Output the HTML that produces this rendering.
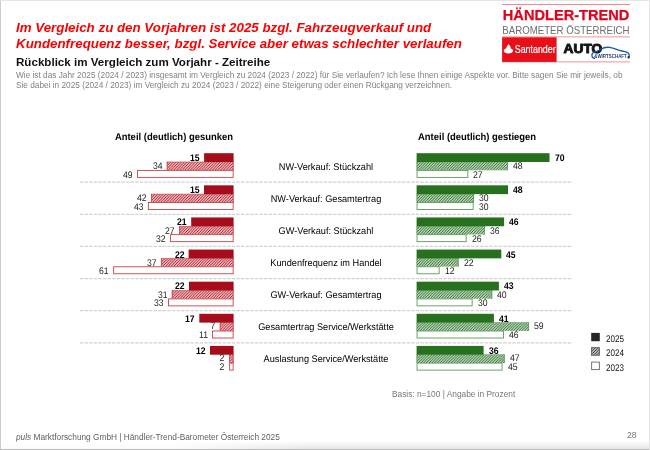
<!DOCTYPE html>
<html><head><meta charset="utf-8">
<style>
html,body{margin:0;padding:0;}
body{width:650px;height:450px;position:relative;overflow:hidden;background:#fff;font-family:"Liberation Sans",sans-serif;}
.abs{position:absolute;white-space:nowrap;}
.lg{left:606.1px;font-size:9.5px;line-height:11px;color:#111;text-rendering:geometricPrecision;transform:scaleX(0.85);transform-origin:0 50%;}
.v{font-size:9.6px;line-height:11px;text-rendering:geometricPrecision;}
#page{position:absolute;left:0;top:0;width:650px;height:450px;will-change:transform;}
#frame{position:absolute;left:0;top:0;width:648px;height:447.7px;border-left:1px solid #cdcdcd;border-right:1px solid #e4e4e4;border-top:1px solid #e6e6e6;border-bottom:1.3px solid #bcbcbc;}
#shade{position:absolute;left:1px;top:441px;width:648px;height:7.7px;background:linear-gradient(to bottom, rgba(235,235,235,0) 0, rgba(228,228,228,0.95) 100%);-webkit-mask-image:linear-gradient(to right, rgba(0,0,0,0.12) 0, rgba(0,0,0,0.12) 170px, #000 310px);mask-image:linear-gradient(to right, rgba(0,0,0,0.12) 0, rgba(0,0,0,0.12) 170px, #000 310px);}
</style></head><body>
<div id="page"><div id="shade"></div><div id="frame"></div>
<div class="abs" style="left:16.40px;top:20px;font-size:13.34px;line-height:15px;transform:translateY(0.30px);transform-origin:0 50%;will-change:transform;font-weight:bold;font-style:italic;color:#fb0000;">Im Vergleich zu den Vorjahren ist 2025 bzgl. Fahrzeugverkauf und</div>
<div class="abs" style="left:16.40px;top:35px;font-size:13.34px;line-height:15px;transform:translateY(0.70px);transform-origin:0 50%;will-change:transform;font-weight:bold;font-style:italic;color:#fb0000;">Kundenfrequenz besser, bzgl. Service aber etwas schlechter verlaufen</div>
<div class="abs" style="left:16.10px;top:55px;font-size:11.6px;line-height:12px;transform:translateY(0.70px);transform-origin:0 50%;will-change:transform;font-weight:bold;color:#111;">Rückblick im Vergleich zum Vorjahr - Zeitreihe</div>
<div class="abs" style="left:16.20px;top:71px;font-size:8.27px;line-height:9px;transform:translateY(0.30px);transform-origin:0 50%;will-change:transform;color:#828282;">Wie ist das Jahr 2025 (2024 / 2023) insgesamt im Vergleich zu 2024 (2023 / 2022) für Sie verlaufen? Ich lese Ihnen einige Aspekte vor. Bitte sagen Sie mir jeweils, ob</div>
<div class="abs" style="left:16.20px;top:80px;font-size:8.27px;line-height:9px;transform:translateY(0.70px);transform-origin:0 50%;will-change:transform;color:#828282;">Sie dabei in 2025 (2024 / 2023) im Vergleich zu 2024 (2023 / 2022) eine Steigerung oder einen Rückgang verzeichnen.</div>

<svg class="abs" style="left:495px;top:0" width="145" height="70" viewBox="495 0 145 70" font-family="Liberation Sans, sans-serif">
<rect x="502.1" y="4.15" width="127.8" height="0.75" fill="#e8606a"/>
<text x="502.8" y="20.3" font-size="14.3" font-weight="bold" fill="#e2001a" stroke="#e2001a" stroke-width="0.25" textLength="126.6" lengthAdjust="spacingAndGlyphs">HÄNDLER-TREND</text>
<text x="502.3" y="33.5" font-size="10.9" fill="#6e6e6e" textLength="127.3" lengthAdjust="spacingAndGlyphs">BAROMETER ÖSTERREICH</text>
<rect x="502.1" y="36.5" width="127.8" height="0.8" fill="#ec7a82"/>
<rect x="502.1" y="61.5" width="127.8" height="0.8" fill="#ec7a82"/>
<rect x="502.1" y="37.3" width="54.5" height="24.6" fill="#e80f18"/>
<!-- santander flame -->
<path d="M508.6 44.1 C509.4 45.4 511 46.6 510.5 48.2 C512.2 48.7 513.05 49.7 513.05 50.8 C513.05 52.5 510.9 53.6 508.4 53.6 C505.9 53.6 503.75 52.5 503.75 50.8 C503.75 49.7 504.8 48.7 506.4 48.3 C506.2 46.6 507.8 45.6 508.6 44.1Z" fill="#fff"/>
<text x="514.8" y="53.1" font-size="10.0" fill="#fff" stroke="#fff" stroke-width="0.2" textLength="40.8" lengthAdjust="spacingAndGlyphs">Santander</text>
<!-- AUTO -->
<text x="563.6" y="52.85" font-size="13.4" font-weight="bold" fill="#151515" stroke="#151515" stroke-width="0.95" stroke-linejoin="round" textLength="38.7" lengthAdjust="spacingAndGlyphs">AUTO</text>
<path d="M594.4 58.3 C592.6 58 591.7 56.6 592 54.4 C592.4 52.6 594 51.6 596.2 51.3 C598.5 51 599.8 50.2 601 49.2 C603.5 47.4 606.5 47 609.5 47.3 C612.5 47.6 614.5 48.5 616.5 49.4 C619 50.5 621.5 50.9 624 51.4 C626.5 51.9 628.3 52.7 628.9 54 C629.3 54.9 629.3 55.6 629.2 56.2" fill="none" stroke="#1c58ad" stroke-width="1.35" stroke-linecap="round"/>
<rect x="627.6" y="56.3" width="2.1" height="2" fill="#151515"/>
<text x="594.2" y="57.9" font-size="4.6" font-weight="bold" fill="#1e3f7a" textLength="32.6" lengthAdjust="spacingAndGlyphs">&amp;WIRTSCHAFT</text>
</svg>


<div class="abs" style="right:416.7px;top:132px;font-size:10px;line-height:11px;font-weight:bold;color:#000;text-rendering:geometricPrecision;transform:scaleX(0.945);transform-origin:100% 50%;">Anteil (deutlich) gesunken</div>
<div class="abs" style="left:417.7px;top:132px;font-size:10px;line-height:11px;font-weight:bold;color:#000;text-rendering:geometricPrecision;transform:scaleX(0.945);transform-origin:0 50%;">Anteil (deutlich) gestiegen</div>

<svg class="abs" style="left:0;top:0" width="650" height="450" viewBox="0 0 650 450">
<defs>
<pattern id="hr" width="2.75" height="2.75" patternUnits="userSpaceOnUse"><rect width="2.75" height="2.75" fill="#fff"/><path d="M-0.5,0.5 L0.5,-0.5 M0,2.75 L2.75,0 M2.25,3.25 L3.25,2.25" stroke="#b00c18" stroke-width="1.02"/></pattern>
<pattern id="hg" width="2.75" height="2.75" patternUnits="userSpaceOnUse"><rect width="2.75" height="2.75" fill="#fff"/><path d="M-0.5,0.5 L0.5,-0.5 M0,2.75 L2.75,0 M2.25,3.25 L3.25,2.25" stroke="#176414" stroke-width="1.02"/></pattern>
<pattern id="hk" width="2.75" height="2.75" patternUnits="userSpaceOnUse"><rect width="2.75" height="2.75" fill="#fff"/><path d="M-0.5,0.5 L0.5,-0.5 M0,2.75 L2.75,0 M2.25,3.25 L3.25,2.25" stroke="#222" stroke-width="1.0"/></pattern>
</defs>
<rect x="166.80" y="161.80" width="66.80" height="8.50" fill="url(#hr)"/><path d="M167.20,161.80 V170.30 M233.20,161.80 V170.30" stroke="#c6424a" stroke-width="0.8" fill="none"/><path d="M166.80,162.05 H233.60" stroke="#c6424a" stroke-width="0.5" fill="none"/>
<rect x="416.60" y="161.80" width="91.40" height="8.50" fill="url(#hg)"/><path d="M417.00,161.80 V170.30 M507.60,161.80 V170.30" stroke="#5a9a58" stroke-width="0.8" fill="none"/><path d="M416.60,162.05 H508.00" stroke="#5a9a58" stroke-width="0.5" fill="none"/>
<rect x="137.45" y="170.40" width="95.70" height="7.00" fill="#fff" stroke="#c6424a" stroke-width="0.9"/>
<rect x="417.05" y="170.40" width="50.80" height="7.00" fill="#fff" stroke="#5a9a58" stroke-width="0.9"/>
<line x1="80" y1="182.22" x2="572.6" y2="182.22" stroke="#d2d2d2" stroke-width="1.3" stroke-dasharray="3.4 1.2"/>
<rect x="151.10" y="193.92" width="82.50" height="8.50" fill="url(#hr)"/><path d="M151.50,193.92 V202.42 M233.20,193.92 V202.42" stroke="#c6424a" stroke-width="0.8" fill="none"/><path d="M151.10,194.17 H233.60" stroke="#c6424a" stroke-width="0.5" fill="none"/>
<rect x="416.60" y="193.92" width="57.40" height="8.50" fill="url(#hg)"/><path d="M417.00,193.92 V202.42 M473.60,193.92 V202.42" stroke="#5a9a58" stroke-width="0.8" fill="none"/><path d="M416.60,194.17 H474.00" stroke="#5a9a58" stroke-width="0.5" fill="none"/>
<rect x="148.35" y="202.52" width="84.80" height="7.00" fill="#fff" stroke="#c6424a" stroke-width="0.9"/>
<rect x="417.05" y="202.52" width="56.10" height="7.00" fill="#fff" stroke="#5a9a58" stroke-width="0.9"/>
<line x1="80" y1="214.34" x2="572.6" y2="214.34" stroke="#d2d2d2" stroke-width="1.3" stroke-dasharray="3.4 1.2"/>
<rect x="179.10" y="226.04" width="54.50" height="8.50" fill="url(#hr)"/><path d="M179.50,226.04 V234.54 M233.20,226.04 V234.54" stroke="#c6424a" stroke-width="0.8" fill="none"/><path d="M179.10,226.29 H233.60" stroke="#c6424a" stroke-width="0.5" fill="none"/>
<rect x="416.60" y="226.04" width="68.30" height="8.50" fill="url(#hg)"/><path d="M417.00,226.04 V234.54 M484.50,226.04 V234.54" stroke="#5a9a58" stroke-width="0.8" fill="none"/><path d="M416.60,226.29 H484.90" stroke="#5a9a58" stroke-width="0.5" fill="none"/>
<rect x="170.45" y="234.64" width="62.70" height="7.00" fill="#fff" stroke="#c6424a" stroke-width="0.9"/>
<rect x="417.05" y="234.64" width="49.10" height="7.00" fill="#fff" stroke="#5a9a58" stroke-width="0.9"/>
<line x1="80" y1="246.46" x2="572.6" y2="246.46" stroke="#d2d2d2" stroke-width="1.3" stroke-dasharray="3.4 1.2"/>
<rect x="161.00" y="258.16" width="72.60" height="8.50" fill="url(#hr)"/><path d="M161.40,258.16 V266.66 M233.20,258.16 V266.66" stroke="#c6424a" stroke-width="0.8" fill="none"/><path d="M161.00,258.41 H233.60" stroke="#c6424a" stroke-width="0.5" fill="none"/>
<rect x="416.60" y="258.16" width="42.00" height="8.50" fill="url(#hg)"/><path d="M417.00,258.16 V266.66 M458.20,258.16 V266.66" stroke="#5a9a58" stroke-width="0.8" fill="none"/><path d="M416.60,258.41 H458.60" stroke="#5a9a58" stroke-width="0.5" fill="none"/>
<rect x="113.65" y="266.76" width="119.50" height="7.00" fill="#fff" stroke="#c6424a" stroke-width="0.9"/>
<rect x="417.05" y="266.76" width="22.10" height="7.00" fill="#fff" stroke="#5a9a58" stroke-width="0.9"/>
<line x1="80" y1="278.58" x2="572.6" y2="278.58" stroke="#d2d2d2" stroke-width="1.3" stroke-dasharray="3.4 1.2"/>
<rect x="171.80" y="290.28" width="61.80" height="8.50" fill="url(#hr)"/><path d="M172.20,290.28 V298.78 M233.20,290.28 V298.78" stroke="#c6424a" stroke-width="0.8" fill="none"/><path d="M171.80,290.53 H233.60" stroke="#c6424a" stroke-width="0.5" fill="none"/>
<rect x="416.60" y="290.28" width="75.60" height="8.50" fill="url(#hg)"/><path d="M417.00,290.28 V298.78 M491.80,290.28 V298.78" stroke="#5a9a58" stroke-width="0.8" fill="none"/><path d="M416.60,290.53 H492.20" stroke="#5a9a58" stroke-width="0.5" fill="none"/>
<rect x="168.55" y="298.88" width="64.60" height="7.00" fill="#fff" stroke="#c6424a" stroke-width="0.9"/>
<rect x="417.05" y="298.88" width="55.10" height="7.00" fill="#fff" stroke="#5a9a58" stroke-width="0.9"/>
<line x1="80" y1="310.70" x2="572.6" y2="310.70" stroke="#d2d2d2" stroke-width="1.3" stroke-dasharray="3.4 1.2"/>
<rect x="219.80" y="322.40" width="13.80" height="8.50" fill="url(#hr)"/><path d="M220.20,322.40 V330.90 M233.20,322.40 V330.90" stroke="#c6424a" stroke-width="0.8" fill="none"/><path d="M219.80,322.65 H233.60" stroke="#c6424a" stroke-width="0.5" fill="none"/>
<rect x="416.60" y="322.40" width="112.40" height="8.50" fill="url(#hg)"/><path d="M417.00,322.40 V330.90 M528.60,322.40 V330.90" stroke="#5a9a58" stroke-width="0.8" fill="none"/><path d="M416.60,322.65 H529.00" stroke="#5a9a58" stroke-width="0.5" fill="none"/>
<rect x="212.45" y="331.00" width="20.70" height="7.00" fill="#fff" stroke="#c6424a" stroke-width="0.9"/>
<rect x="417.05" y="331.00" width="86.50" height="7.00" fill="#fff" stroke="#5a9a58" stroke-width="0.9"/>
<line x1="80" y1="342.82" x2="572.6" y2="342.82" stroke="#d2d2d2" stroke-width="1.3" stroke-dasharray="3.4 1.2"/>
<rect x="229.10" y="354.52" width="4.50" height="8.50" fill="url(#hr)"/><path d="M229.50,354.52 V363.02 M233.20,354.52 V363.02" stroke="#c6424a" stroke-width="0.8" fill="none"/><path d="M229.10,354.77 H233.60" stroke="#c6424a" stroke-width="0.5" fill="none"/>
<rect x="416.60" y="354.52" width="88.10" height="8.50" fill="url(#hg)"/><path d="M417.00,354.52 V363.02 M504.30,354.52 V363.02" stroke="#5a9a58" stroke-width="0.8" fill="none"/><path d="M416.60,354.77 H504.70" stroke="#5a9a58" stroke-width="0.5" fill="none"/>
<rect x="229.65" y="363.12" width="3.50" height="7.00" fill="#fff" stroke="#c6424a" stroke-width="0.9"/>
<rect x="417.05" y="363.12" width="85.00" height="7.00" fill="#fff" stroke="#5a9a58" stroke-width="0.9"/>
<rect x="204.10" y="153.20" width="29.50" height="8.80" fill="#a60d1a"/>
<rect x="416.60" y="153.20" width="132.90" height="8.80" fill="#26701e"/>
<rect x="204.00" y="185.32" width="29.60" height="8.80" fill="#a60d1a"/>
<rect x="416.60" y="185.32" width="91.40" height="8.80" fill="#26701e"/>
<rect x="191.20" y="217.44" width="42.40" height="8.80" fill="#a60d1a"/>
<rect x="416.60" y="217.44" width="87.50" height="8.80" fill="#26701e"/>
<rect x="188.60" y="249.56" width="45.00" height="8.80" fill="#a60d1a"/>
<rect x="416.60" y="249.56" width="84.70" height="8.80" fill="#26701e"/>
<rect x="189.00" y="281.68" width="44.60" height="8.80" fill="#a60d1a"/>
<rect x="416.60" y="281.68" width="82.30" height="8.80" fill="#26701e"/>
<rect x="199.30" y="313.80" width="34.30" height="8.80" fill="#a60d1a"/>
<rect x="416.60" y="313.80" width="77.30" height="8.80" fill="#26701e"/>
<rect x="210.00" y="345.92" width="23.60" height="8.80" fill="#a60d1a"/>
<rect x="416.60" y="345.92" width="67.00" height="8.80" fill="#26701e"/>
<rect x="591.2" y="332.9" width="8.6" height="8.3" fill="#262626"/>
<rect x="591.2" y="347.3" width="8.6" height="8.3" fill="url(#hk)"/><rect x="591.6" y="347.7" width="7.8" height="7.5" fill="none" stroke="#555" stroke-width="0.7"/>
<rect x="591.65" y="362.1" width="7.7" height="7.5" fill="#fff" stroke="#666" stroke-width="0.9"/>
</svg>
<div class="abs v" style="right:450.30px;top:153px;font-weight:bold;color:#000;transform:scaleX(0.9);transform-origin:100% 50%;">15</div>
<div class="abs v" style="left:554.50px;top:153px;font-weight:bold;color:#000;transform:scaleX(0.9);transform-origin:0 50%;">70</div>
<div class="abs v" style="right:487.60px;top:161px;color:#222;transform:scaleX(0.9);transform-origin:100% 50%;">34</div>
<div class="abs v" style="left:513.00px;top:161px;color:#222;transform:scaleX(0.9);transform-origin:0 50%;">48</div>
<div class="abs v" style="right:517.40px;top:170px;color:#222;transform:scaleX(0.9);transform-origin:100% 50%;">49</div>
<div class="abs v" style="left:473.30px;top:170px;color:#222;transform:scaleX(0.9);transform-origin:0 50%;">27</div>
<div class="abs" style="left:176.3px;width:300px;text-align:center;top:162px;font-size:9.7px;line-height:11px;color:#000;text-rendering:geometricPrecision;transform:scaleX(0.948);">NW-Verkauf: Stückzahl</div>
<div class="abs v" style="right:450.40px;top:185px;font-weight:bold;color:#000;transform:scaleX(0.9);transform-origin:100% 50%;">15</div>
<div class="abs v" style="left:513.00px;top:185px;font-weight:bold;color:#000;transform:scaleX(0.9);transform-origin:0 50%;">48</div>
<div class="abs v" style="right:503.30px;top:193px;color:#222;transform:scaleX(0.9);transform-origin:100% 50%;">42</div>
<div class="abs v" style="left:479.00px;top:193px;color:#222;transform:scaleX(0.9);transform-origin:0 50%;">30</div>
<div class="abs v" style="right:506.50px;top:202px;color:#222;transform:scaleX(0.9);transform-origin:100% 50%;">43</div>
<div class="abs v" style="left:478.60px;top:202px;color:#222;transform:scaleX(0.9);transform-origin:0 50%;">30</div>
<div class="abs" style="left:176.3px;width:300px;text-align:center;top:194px;font-size:9.7px;line-height:11px;color:#000;text-rendering:geometricPrecision;transform:scaleX(0.948);">NW-Verkauf: Gesamtertrag</div>
<div class="abs v" style="right:463.20px;top:217px;font-weight:bold;color:#000;transform:scaleX(0.9);transform-origin:100% 50%;">21</div>
<div class="abs v" style="left:509.10px;top:217px;font-weight:bold;color:#000;transform:scaleX(0.9);transform-origin:0 50%;">46</div>
<div class="abs v" style="right:475.30px;top:226px;color:#222;transform:scaleX(0.9);transform-origin:100% 50%;">27</div>
<div class="abs v" style="left:489.90px;top:226px;color:#222;transform:scaleX(0.9);transform-origin:0 50%;">36</div>
<div class="abs v" style="right:484.40px;top:234px;color:#222;transform:scaleX(0.9);transform-origin:100% 50%;">32</div>
<div class="abs v" style="left:471.60px;top:234px;color:#222;transform:scaleX(0.9);transform-origin:0 50%;">26</div>
<div class="abs" style="left:176.3px;width:300px;text-align:center;top:226px;font-size:9.7px;line-height:11px;color:#000;text-rendering:geometricPrecision;transform:scaleX(0.948);">GW-Verkauf: Stückzahl</div>
<div class="abs v" style="right:465.80px;top:250px;font-weight:bold;color:#000;transform:scaleX(0.9);transform-origin:100% 50%;">22</div>
<div class="abs v" style="left:506.30px;top:250px;font-weight:bold;color:#000;transform:scaleX(0.9);transform-origin:0 50%;">45</div>
<div class="abs v" style="right:493.40px;top:258px;color:#222;transform:scaleX(0.9);transform-origin:100% 50%;">37</div>
<div class="abs v" style="left:463.60px;top:258px;color:#222;transform:scaleX(0.9);transform-origin:0 50%;">22</div>
<div class="abs v" style="right:541.20px;top:266px;color:#222;transform:scaleX(0.9);transform-origin:100% 50%;">61</div>
<div class="abs v" style="left:444.60px;top:266px;color:#222;transform:scaleX(0.9);transform-origin:0 50%;">12</div>
<div class="abs" style="left:176.3px;width:300px;text-align:center;top:258px;font-size:9.7px;line-height:11px;color:#000;text-rendering:geometricPrecision;transform:scaleX(0.948);">Kundenfrequenz im Handel</div>
<div class="abs v" style="right:465.40px;top:281px;font-weight:bold;color:#000;transform:scaleX(0.9);transform-origin:100% 50%;">22</div>
<div class="abs v" style="left:503.90px;top:281px;font-weight:bold;color:#000;transform:scaleX(0.9);transform-origin:0 50%;">43</div>
<div class="abs v" style="right:482.60px;top:290px;color:#222;transform:scaleX(0.9);transform-origin:100% 50%;">31</div>
<div class="abs v" style="left:497.20px;top:290px;color:#222;transform:scaleX(0.9);transform-origin:0 50%;">40</div>
<div class="abs v" style="right:486.30px;top:298px;color:#222;transform:scaleX(0.9);transform-origin:100% 50%;">33</div>
<div class="abs v" style="left:477.60px;top:298px;color:#222;transform:scaleX(0.9);transform-origin:0 50%;">30</div>
<div class="abs" style="left:176.3px;width:300px;text-align:center;top:290px;font-size:9.7px;line-height:11px;color:#000;text-rendering:geometricPrecision;transform:scaleX(0.948);">GW-Verkauf: Gesamtertrag</div>
<div class="abs v" style="right:455.10px;top:314px;font-weight:bold;color:#000;transform:scaleX(0.9);transform-origin:100% 50%;">17</div>
<div class="abs v" style="left:498.90px;top:314px;font-weight:bold;color:#000;transform:scaleX(0.9);transform-origin:0 50%;">41</div>
<div class="abs v" style="right:434.60px;top:321px;color:#222;transform:scaleX(0.9);transform-origin:100% 50%;">7</div>
<div class="abs v" style="left:534.00px;top:321px;color:#222;transform:scaleX(0.9);transform-origin:0 50%;">59</div>
<div class="abs v" style="right:442.40px;top:330px;color:#222;transform:scaleX(0.9);transform-origin:100% 50%;">11</div>
<div class="abs v" style="left:509.00px;top:330px;color:#222;transform:scaleX(0.9);transform-origin:0 50%;">46</div>
<div class="abs" style="left:176.3px;width:300px;text-align:center;top:322px;font-size:9.7px;line-height:11px;color:#000;text-rendering:geometricPrecision;transform:scaleX(0.948);">Gesamtertrag Service/Werkstätte</div>
<div class="abs v" style="right:444.40px;top:346px;font-weight:bold;color:#000;transform:scaleX(0.9);transform-origin:100% 50%;">12</div>
<div class="abs v" style="left:488.60px;top:346px;font-weight:bold;color:#000;transform:scaleX(0.9);transform-origin:0 50%;">36</div>
<div class="abs v" style="right:425.30px;top:353px;color:#222;transform:scaleX(0.9);transform-origin:100% 50%;">2</div>
<div class="abs v" style="left:509.70px;top:353px;color:#222;transform:scaleX(0.9);transform-origin:0 50%;">47</div>
<div class="abs v" style="right:425.20px;top:362px;color:#222;transform:scaleX(0.9);transform-origin:100% 50%;">2</div>
<div class="abs v" style="left:507.50px;top:362px;color:#222;transform:scaleX(0.9);transform-origin:0 50%;">45</div>
<div class="abs" style="left:176.3px;width:300px;text-align:center;top:354px;font-size:9.7px;line-height:11px;color:#000;text-rendering:geometricPrecision;transform:scaleX(0.948);">Auslastung Service/Werkstätte</div>
<div class="abs lg" style="top:334px">2025</div>
<div class="abs lg" style="top:348px">2024</div>
<div class="abs lg" style="top:363px">2023</div>
<div class="abs" style="left:391.60px;top:389px;font-size:8.34px;line-height:10px;transform:translateY(0.00px);transform-origin:0 50%;will-change:transform;color:#777;">Basis: n=100 | Angabe in Prozent</div>
<div class="abs" style="left:16.20px;top:431px;font-size:8.3px;line-height:10px;transform:translateY(0.80px);transform-origin:0 50%;will-change:transform;color:#606060;"><i>puls</i> Marktforschung GmbH | Händler-Trend-Barometer Österreich 2025</div>
<div class="abs" style="left:627.00px;top:429px;font-size:8.6px;line-height:10px;transform:translateY(0.70px);transform-origin:0 50%;will-change:transform;color:#777;">28</div>
</div></body></html>
